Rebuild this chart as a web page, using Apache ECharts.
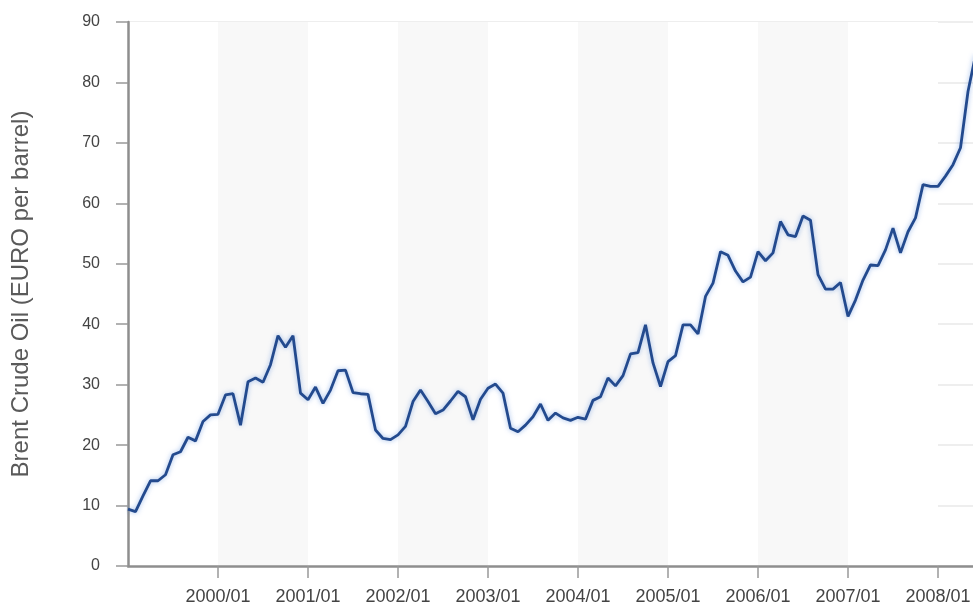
<!DOCTYPE html>
<html>
<head>
<meta charset="utf-8">
<script src="https://cdn.jsdelivr.net/npm/echarts@6/dist/echarts.min.js"></script>
<style>
html,body{margin:0;padding:0;background:#fff;}
#chart{width:973px;height:602px;}
</style>
</head>
<body>
<div id="chart"></div>
<script>
// Monthly categories 1999/01 .. 2008/06
const years = [1999, 2000, 2001, 2002, 2003, 2004, 2005, 2006, 2007, 2008];
const months = [];
years.forEach(function (y) {
  for (let m = 1; m <= 12; m++) {
    if (y === 2008 && m > 6) break;
    months.push(y + '/' + (m < 10 ? '0' + m : m));
  }
});

// Brent crude oil, EUR per barrel
const v1999 = [9.4, 9.0, 11.6, 14.1, 14.1, 15.1, 18.4, 18.9, 21.3, 20.7, 23.9, 25.0];
const v2000 = [25.1, 28.3, 28.5, 23.3, 30.5, 31.1, 30.4, 33.3, 38.1, 36.2, 38.1, 28.6];
const v2001 = [27.5, 29.6, 26.9, 29.1, 32.3, 32.4, 28.7, 28.5, 28.4, 22.5, 21.1, 20.9];
const v2002 = [21.7, 23.1, 27.2, 29.1, 27.2, 25.2, 25.8, 27.3, 28.9, 28.0, 24.2, 27.6];
const v2003 = [29.4, 30.1, 28.6, 22.8, 22.2, 23.3, 24.7, 26.8, 24.1, 25.3, 24.5, 24.1];
const v2004 = [24.6, 24.3, 27.4, 28.0, 31.1, 29.8, 31.5, 35.1, 35.3, 39.9, 33.6, 29.7];
const v2005 = [33.8, 34.8, 39.9, 39.9, 38.4, 44.6, 46.8, 52.0, 51.4, 48.8, 47.0, 47.8];
const v2006 = [52.0, 50.5, 51.8, 57.0, 54.8, 54.5, 57.9, 57.2, 48.2, 45.8, 45.8, 46.9];
const v2007 = [41.3, 44.0, 47.3, 49.8, 49.7, 52.3, 55.9, 51.8, 55.3, 57.6, 63.1, 62.8];
const v2008 = [62.8, 64.5, 66.4, 69.2, 78.5, 84.5];
const values = [].concat(v1999, v2000, v2001, v2002, v2003, v2004, v2005, v2006, v2007, v2008);

const yMin = 0, yMax = 90, yStep = 10;
const yName = 'Brent Crude Oil (EURO per barrel)';

const chart = echarts.init(document.getElementById('chart'));
const isYearTick = function (idx) { return idx > 0 && idx % 12 === 0; };
const isYearBand = function (idx) { return idx % 12 === 0; };
const font = 'Liberation Sans, Arial, Helvetica, sans-serif';

chart.setOption({
  animation: false,
  backgroundColor: '#ffffff',
  grid: { left: 128, top: 22, width: 847.5, height: 544, containLabel: false, outerBoundsMode: 'none' },
  xAxis: {
    type: 'category',
    data: months,
    boundaryGap: false,
    axisLine: { lineStyle: { color: '#8e8e8e', width: 2.5 } },
    axisTick: { interval: isYearTick, length: 12, lineStyle: { color: '#999', width: 1.5 } },
    axisLabel: { interval: isYearTick, margin: 22, fontSize: 18, color: '#444', fontFamily: font },
    splitLine: { show: false },
    splitArea: { show: true, interval: isYearBand, areaStyle: { color: ['#ffffff', '#f8f8f8'] } }
  },
  yAxis: {
    type: 'value',
    min: yMin, max: yMax, interval: yStep,
    name: yName,
    nameLocation: 'middle',
    nameGap: 95,
    nameTextStyle: { fontSize: 24, color: '#5a5a5a', fontFamily: font },
    axisLine: { show: true, lineStyle: { color: '#8e8e8e', width: 2.5 } },
    axisTick: { show: true, length: 12, lineStyle: { color: '#999', width: 1.5 } },
    axisLabel: { margin: 28, fontSize: 16, color: '#444', fontFamily: font },
    splitLine: { show: true, lineStyle: { color: '#e8e8e8', width: 1.5 } }
  },
  series: [{
    type: 'line',
    data: values,
    showSymbol: false,
    clip: false,
    lineStyle: { color: '#234a8e', width: 2.8, shadowColor: 'rgba(90,140,220,0.6)', shadowBlur: 5 }
  }]
});
</script>
</body>
</html>
